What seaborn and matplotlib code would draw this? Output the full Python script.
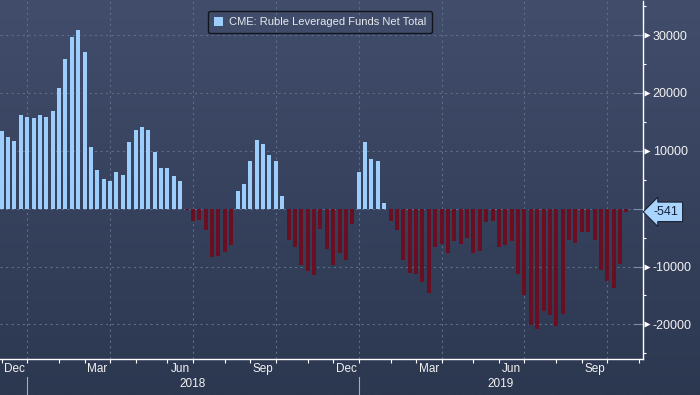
import numpy as np
import pandas as pd
import matplotlib
matplotlib.use('Agg')
import matplotlib.pyplot as plt
import matplotlib.transforms as mtransforms
from matplotlib.patches import Patch
from matplotlib.colors import LinearSegmentedColormap
import seaborn as sns

# ---------------- data ----------------
start_date = '2017-12-05'   # weekly (Tuesday) observations
values = [
    13500, 12460, 11780, 16260, 15910, 15740, 16260, 15910, 16840, 20910,
    25910, 29600, 30910, 27120, 10740, 6610, 5050, 4710, 6430, 5910,
    11460, 13670, 14190, 13670, 9880, 7120, 7120, 5570, 4710, -250,
    -2190, -2020, -3740, -8400, -8220, -7530, -6330, 3140, 4190, 8160,
    11950, 11260, 9360, 8160, 2280, -5470, -6670, -9780, -10810, -11500,
    -3570, -7020, -9780, -7710, -8910, -2710, 6400, 11600, 8670, 8160,
    910, -2190, -3740, -8910, -11150, -11330, -12710, -14600, -6670, -6160,
    -7710, -5640, -6160, -5120, -7710, -7360, -2360, -2190, -6670, -6330,
    -5640, -11330, -14950, -20120, -20810, -17710, -18400, -20230, -18230, -5470,
    -5990, -4090, -4090, -5470, -10640, -12540, -13740, -9610, -541,
]
series_name = 'CME: Ruble Leveraged Funds Net Total'
y_major = [-20000, -10000, 0, 10000, 20000, 30000]
y_minor = [-25000, -15000, -5000, 5000, 15000, 25000, 35000]
month_names = {12: 'Dec', 3: 'Mar', 6: 'Jun', 9: 'Sep'}

# ---------------- style ----------------
POS_C = '#9dcdfb'
NEG_C = '#6a0f22'
GRID_C = '#5c6e88'
TXT_C = '#f2f2f2'
plt.rcParams['axes.unicode_minus'] = False
plt.rcParams['font.family'] = ['Liberation Sans', 'DejaVu Sans']

dates = pd.date_range(start_date, periods=len(values), freq='7D')
df = pd.DataFrame({'pos': np.arange(len(values)), 'value': values})
df['sign'] = np.where(df['value'] >= 0, 'pos', 'neg')

W, H = 700, 395
fig = plt.figure(figsize=(W / 100, H / 100), dpi=100)

bg = fig.add_axes([0, 0, 1, 1], zorder=-10)
grad = np.linspace(0, 1, 256)[:, None]
bg.imshow(grad, aspect='auto', extent=[0, 1, 0, 1],
          cmap=LinearSegmentedColormap.from_list('bg', ['#414d6b', '#2c3750']))
bg.set_axis_off()

ax_l, ax_r, ax_t, ax_b = 0, 643, 1, 359.3
ax = fig.add_axes([ax_l / W, 1 - ax_b / H, (ax_r - ax_l) / W, (ax_b - ax_t) / H])
ax.set_facecolor('none')

sns.barplot(data=df, x='pos', y='value', hue='sign',
            palette={'pos': POS_C, 'neg': NEG_C}, native_scale=True,
            width=0.63, dodge=False, legend=False, errorbar=None,
            saturation=1, linewidth=0, ax=ax)

xmin, xmax = -0.27, 100.6
ax.set_xlim(xmin, xmax)
ax.set_ylim(-26030, 35900)


def pos_of(ts):
    return int(np.ceil((ts - dates[0]) / pd.Timedelta(days=7)))


months = pd.date_range('2017-12-01', '2019-12-01', freq='MS')
mpos = [pos_of(m) for m in months]
minor_x = [p for p in mpos if xmin <= p <= xmax]
major_x = [p for m, p in zip(months, mpos) if m.month in (1, 4, 7, 10) and xmin <= p <= xmax]

ax.set_xticks(major_x)
ax.set_xticklabels([''] * len(major_x))
ax.set_xticks(minor_x, minor=True)
ax.tick_params(axis='x', which='both', direction='out', length=3, width=0.8,
               color='white')
ax.set_xlabel('')
ax.set_ylabel('')

# month labels centred between ticks
for i in range(len(months) - 1):
    m = months[i]
    if m.month in month_names:
        c = (mpos[i] + mpos[i + 1]) / 2
        if xmin <= c <= xmax:
            ax.text(c, -0.027, month_names[m.month], transform=ax.get_xaxis_transform(),
                    ha='center', va='center', fontsize=8.5, color=TXT_C, clip_on=False)

# year labels & separators
jan_pos = [p for m, p in zip(months, mpos) if m.month == 1]
for k, jp in enumerate(jan_pos):
    nxt = jan_pos[k + 1] if k + 1 < len(jan_pos) else xmax
    nxt = min(nxt, xmax)
    year = months[mpos.index(jp)].year
    ax.text((jp + nxt) / 2, -0.069, str(year), transform=ax.get_xaxis_transform(),
            ha='center', va='center', fontsize=8.5, color=TXT_C, clip_on=False)
    ax.plot([jp, jp], [-0.049, -0.097], transform=ax.get_xaxis_transform(),
            color='#a4adbb', lw=0.8, clip_on=False)

# y axis on the right
ax.yaxis.tick_right()
ax.set_yticks(y_major)
ax.set_yticklabels(['' if v == 0 else str(v) for v in y_major])
ax.set_yticks(y_minor, minor=True)
ax.tick_params(axis='y', which='major', direction='in', length=7, width=0.8,
               color='#7d8da5', pad=7, labelsize=9, labelcolor=TXT_C)
ax.tick_params(axis='y', which='minor', direction='out', length=2.5, width=0.8,
               color='white')

bt = mtransforms.blended_transform_factory(ax.transAxes, ax.transData)
tri_y = [v for v in y_major if v != 0]
ax.plot([1 + 4 / (ax_r - ax_l)] * len(tri_y), tri_y, ls='none', marker='>', ms=5,
        color='white', mec='none', transform=bt, clip_on=False)

# grid
ax.grid(axis='y', which='major', color=GRID_C, lw=0.8, ls=(0, (2, 3)))
ax.grid(axis='x', which='major', color=GRID_C, lw=0.8, ls=(0, (2, 3)))
ax.set_axisbelow(True)

for s in ('top', 'left'):
    ax.spines[s].set_visible(False)
for s in ('bottom', 'right'):
    ax.spines[s].set_color('white')
    ax.spines[s].set_linewidth(1)

# last value label
last = values[-1]
ax.text(1 + 11 / (ax_r - ax_l), last, f'{last:.0f}', transform=bt, ha='left',
        va='center', fontsize=9, color='#15213a', clip_on=False, zorder=10,
        bbox=dict(boxstyle='larrow,pad=0.3', fc='#a9d4fd', ec='#1a2233', lw=0.8))

# legend
leg = ax.legend(handles=[Patch(facecolor=POS_C, edgecolor='none', label=series_name)],
                loc='upper left', bbox_to_anchor=(208 / 643, 1 - 10 / 358.3),
                borderaxespad=0, frameon=True, fontsize=8, labelcolor='#e6e9ee',
                handlelength=0.8, handleheight=0.8, handletextpad=0.5,
                borderpad=0.55, fancybox=True, facecolor='none',
                edgecolor='#11151d', framealpha=1)
leg.get_frame().set_linewidth(1)

fig.savefig('out.png', dpi=100)
